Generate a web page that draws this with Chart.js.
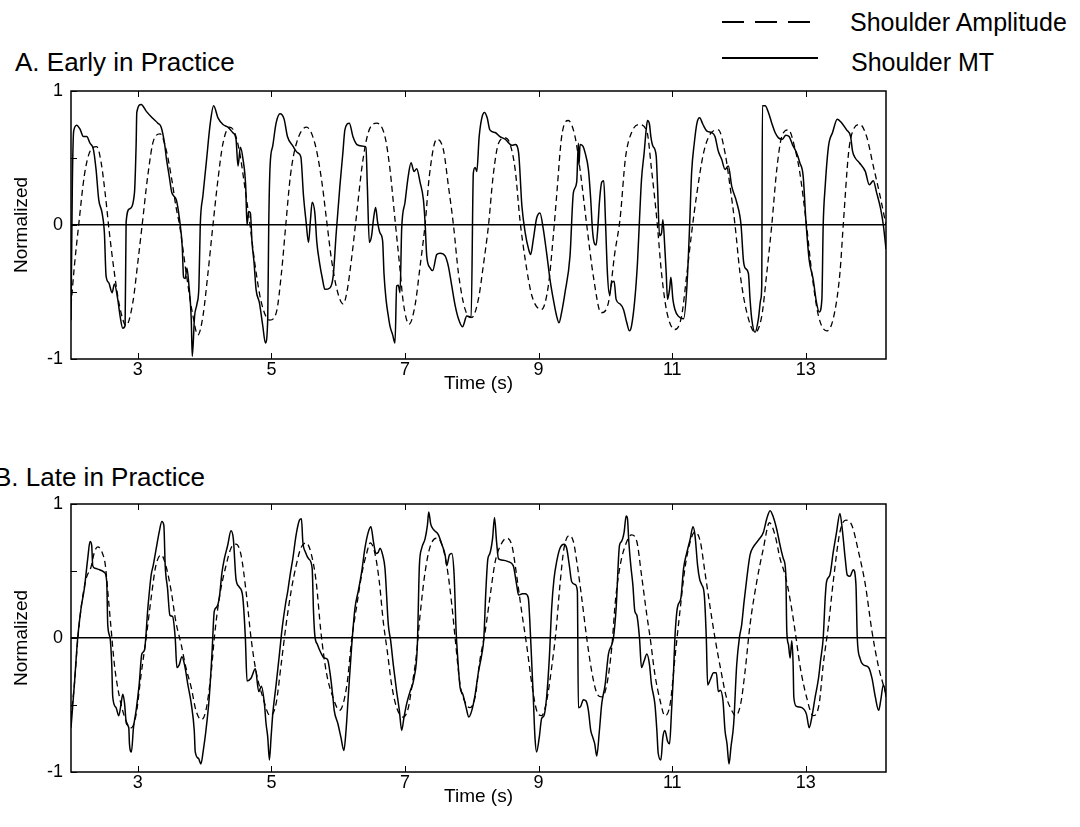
<!DOCTYPE html>
<html>
<head>
<meta charset="utf-8">
<script src="https://cdn.jsdelivr.net/npm/chart.js@4.4.1/dist/chart.umd.min.js"></script>
<style>
  body { margin: 0; background: #fff; }
  #page { position: relative; width: 1080px; height: 827px; overflow: hidden; font-family: "Liberation Sans", Arial, sans-serif; color: #000; }
  canvas { position: absolute; left: 0; }
  .panel-title { position: absolute; font-size: 26px; line-height: 30px; white-space: nowrap; }
  .legend-text { position: absolute; font-size: 25px; line-height: 30px; white-space: nowrap; }
  .legend-line { position: absolute; height: 2px; }
</style>
</head>
<body>
<div id="page">
  <div class="legend-line" style="left:722px; top:21px; width:88px; background:repeating-linear-gradient(to right,#000 0 22px,transparent 22px 33px);"></div>
  <div class="legend-text" style="left:850px; top:7px;">Shoulder Amplitude</div>
  <div class="legend-line" style="left:722px; top:57px; width:96px; background:#000;"></div>
  <div class="legend-text" style="left:851px; top:47px;">Shoulder MT</div>

  <div class="panel-title" style="left:15px; top:47px;">A. Early in Practice</div>
  <canvas id="early" width="900" height="320" style="top:80px;"></canvas>

  <div class="panel-title" style="left:-6px; top:462px;">B. Late in Practice</div>
  <canvas id="late" width="900" height="320" style="top:493px;"></canvas>
</div>

<script>
// axis ticks
const xTicks = [3, 5, 7, 9, 11, 13];
const yTicks = [-1, -0.5, 0, 0.5, 1];
const yLabels = [-1, 0, 1];

// [time (s), normalized value]
const earlyAmplitude = [
  [2.0,-0.60],[2.05,-0.31],[2.115,0],[2.2,0.37],[2.285,0.55],[2.385,0.585],[2.45,0.47],[2.515,0.22],
  [2.575,-0.06],[2.65,-0.36],[2.725,-0.60],[2.825,-0.75],[2.925,-0.58],[3.0,-0.28],[3.065,0],[3.15,0.37],
  [3.235,0.63],[3.335,0.68],[3.425,0.56],[3.515,0.32],[3.57,0.14],[3.625,0],[3.725,-0.36],[3.815,-0.65],
  [3.9,-0.82],[3.975,-0.68],[4.05,-0.36],[4.125,0],[4.2,0.34],[4.275,0.61],[4.375,0.73],[4.45,0.69],
  [4.525,0.54],[4.6,0.29],[4.675,0.02],[4.75,-0.28],[4.85,-0.58],[4.975,-0.71],[5.075,-0.65],[5.15,-0.36],
  [5.215,0],[5.285,0.37],[5.375,0.61],[5.525,0.73],[5.65,0.61],[5.75,0.34],[5.825,0.04],[5.9,-0.26],
  [5.98,-0.48],[6.075,-0.59],[6.13,-0.50],[6.2,-0.25],[6.28,0.1],[6.36,0.45],[6.45,0.69],[6.576,0.76],
  [6.7,0.66],[6.775,0.415],[6.85,0.04],[6.915,-0.28],[6.975,-0.58],[7.06,-0.74],[7.15,-0.60],[7.225,-0.31],
  [7.3,0],[7.365,0.37],[7.475,0.64],[7.575,0.56],[7.65,0.29],[7.725,0],[7.8,-0.36],[7.9,-0.63],
  [8.0,-0.69],[8.1,-0.55],[8.17,-0.31],[8.25,0],[8.32,0.37],[8.4,0.61],[8.5,0.65],[8.575,0.60],
  [8.65,0.41],[8.72,0.04],[8.8,-0.26],[8.9,-0.53],[9.045,-0.63],[9.145,-0.455],[9.22,-0.08],[9.27,0.22],
  [9.345,0.66],[9.445,0.78],[9.545,0.66],[9.62,0.415],[9.72,0],[9.82,-0.385],[9.935,-0.655],[10.045,-0.58],
  [10.14,-0.21],[10.22,0.05],[10.3,0.50],[10.4,0.70],[10.5,0.75],[10.62,0.70],[10.69,0.415],[10.77,0.04],
  [10.84,-0.36],[10.92,-0.65],[11.04,-0.78],[11.14,-0.68],[11.22,-0.36],[11.29,-0.06],[11.37,0.24],[11.47,0.54],
  [11.57,0.68],[11.69,0.71],[11.79,0.54],[11.865,0.29],[11.94,0],[12.015,-0.36],[12.115,-0.65],[12.24,-0.80],
  [12.34,-0.68],[12.415,-0.36],[12.49,0],[12.565,0.415],[12.64,0.66],[12.74,0.71],[12.84,0.565],[12.91,0.39],
  [13.01,0],[13.09,-0.36],[13.19,-0.68],[13.31,-0.79],[13.41,-0.70],[13.51,-0.36],[13.56,0],[13.64,0.54],
  [13.71,0.71],[13.81,0.75],[13.91,0.66],[14.01,0.44],[14.11,0.22],[14.2,0.0]
];

const earlyMT = [
  [2.0,-0.71],[2.02,0.30],[2.04,0.70],[2.085,0.745],[2.135,0.715],[2.185,0.66],[2.235,0.66],[2.285,0.61],
  [2.335,0.565],[2.375,0.415],[2.415,0.19],[2.465,0.09],[2.5,-0.06],[2.525,-0.38],[2.565,-0.43],[2.615,-0.505],
  [2.65,-0.44],[2.7,-0.555],[2.735,-0.68],[2.775,-0.77],[2.81,-0.75],[2.825,0.02],[2.875,0.12],[2.95,0.24],
  [2.975,0.60],[2.985,0.84],[3.05,0.90],[3.125,0.85],[3.215,0.80],[3.3,0.76],[3.35,0.73],[3.4,0.61],
  [3.43,0.49],[3.47,0.365],[3.51,0.24],[3.575,0.19],[3.625,0.04],[3.665,-0.16],[3.685,-0.39],[3.71,-0.40],
  [3.735,-0.32],[3.765,-0.45],[3.8,-0.70],[3.815,-0.98],[3.85,-0.68],[3.885,-0.59],[3.915,-0.455],[3.935,0],
  [3.975,0.22],[4.025,0.465],[4.085,0.76],[4.135,0.89],[4.2,0.80],[4.275,0.75],[4.35,0.73],[4.42,0.69],
  [4.47,0.64],[4.5,0.44],[4.535,0.58],[4.575,0.49],[4.615,0.29],[4.635,0.0],[4.66,0.10],[4.685,0.09],
  [4.71,-0.13],[4.74,-0.28],[4.77,-0.48],[4.82,-0.58],[4.87,-0.75],[4.91,-0.88],[4.945,-0.70],[4.96,0.0],
  [4.98,0.44],[5.02,0.59],[5.07,0.76],[5.13,0.83],[5.19,0.79],[5.24,0.66],[5.32,0.59],[5.39,0.54],
  [5.44,0.51],[5.48,0.22],[5.52,0.02],[5.555,-0.13],[5.585,0.04],[5.61,0.17],[5.65,0.09],[5.68,-0.13],
  [5.72,-0.28],[5.765,-0.405],[5.8,-0.48],[5.875,-0.47],[5.925,-0.38],[5.97,-0.06],[6.025,0.29],[6.07,0.54],
  [6.1,0.71],[6.167,0.76],[6.22,0.66],[6.28,0.60],[6.35,0.59],[6.415,0.58],[6.436,0.29],[6.466,-0.13],
  [6.5,-0.08],[6.527,0.04],[6.56,0.13],[6.59,0.02],[6.626,-0.06],[6.665,-0.12],[6.685,-0.36],[6.716,-0.555],
  [6.75,-0.68],[6.775,-0.755],[6.815,-0.82],[6.85,-0.88],[6.875,-0.455],[6.9,-0.45],[6.925,-0.505],[6.95,-0.03],
  [7.0,0.17],[7.05,0.37],[7.09,0.465],[7.135,0.40],[7.175,0.42],[7.225,0.32],[7.275,0.19],[7.3,0.02],
  [7.325,-0.23],[7.375,-0.32],[7.415,-0.34],[7.475,-0.22],[7.525,-0.21],[7.6,-0.23],[7.65,-0.31],[7.7,-0.455],
  [7.75,-0.60],[7.8,-0.70],[7.86,-0.76],[7.925,-0.68],[7.99,-0.69],[8.023,0.39],[8.05,0.43],[8.075,0.40],
  [8.11,0.66],[8.15,0.80],[8.19,0.84],[8.23,0.80],[8.27,0.71],[8.35,0.69],[8.42,0.66],[8.5,0.64],
  [8.6,0.595],[8.65,0.60],[8.7,0.54],[8.75,0.14],[8.8,-0.06],[8.85,-0.18],[8.88,-0.22],[8.92,-0.11],
  [8.97,0.05],[9.02,0.09],[9.07,-0.03],[9.12,-0.21],[9.17,-0.405],[9.22,-0.555],[9.27,-0.68],[9.305,-0.73],
  [9.345,-0.65],[9.395,-0.505],[9.47,-0.23],[9.52,0.24],[9.57,0.32],[9.595,0.61],[9.605,0.45],[9.62,0.60],
  [9.66,0.59],[9.695,0.54],[9.745,0.415],[9.78,0.19],[9.805,-0.03],[9.83,-0.13],[9.86,-0.15],[9.885,-0.03],
  [9.91,0.17],[9.945,0.32],[9.975,0.33],[10.0,0.04],[10.03,-0.36],[10.06,-0.52],[10.095,-0.43],[10.13,-0.42],
  [10.16,-0.555],[10.22,-0.59],[10.27,-0.63],[10.32,-0.73],[10.36,-0.79],[10.39,-0.755],[10.44,-0.555],[10.48,-0.28],
  [10.51,0.04],[10.54,0.34],[10.58,0.54],[10.61,0.71],[10.63,0.78],[10.66,0.75],[10.68,0.66],[10.71,0.59],
  [10.76,0.515],[10.78,0.29],[10.81,-0.08],[10.84,-0.06],[10.86,0.04],[10.89,-0.18],[10.91,-0.36],[10.93,-0.555],
  [10.96,-0.48],[10.98,-0.39],[11.01,-0.555],[11.04,-0.63],[11.09,-0.68],[11.17,-0.70],[11.22,-0.455],[11.26,-0.01],
  [11.29,0.39],[11.33,0.61],[11.37,0.76],[11.41,0.80],[11.46,0.75],[11.52,0.70],[11.59,0.69],[11.64,0.66],
  [11.69,0.55],[11.74,0.49],[11.79,0.415],[11.84,0.44],[11.89,0.29],[11.965,0.17],[12.03,0],[12.065,-0.26],
  [12.09,-0.32],[12.14,-0.36],[12.165,-0.555],[12.19,-0.70],[12.24,-0.80],[12.29,-0.70],[12.325,-0.555],[12.34,-0.45],
  [12.35,0.89],[12.39,0.89],[12.44,0.84],[12.49,0.76],[12.54,0.69],[12.59,0.65],[12.65,0.64],[12.7,0.67],
  [12.75,0.66],[12.8,0.60],[12.86,0.54],[12.91,0.465],[12.96,0.365],[13.0,0.04],[13.05,-0.26],[13.11,-0.405],
  [13.16,-0.58],[13.2,-0.65],[13.24,-0.555],[13.26,0],[13.29,0.29],[13.34,0.59],[13.4,0.69],[13.47,0.79],
  [13.54,0.76],[13.61,0.71],[13.67,0.66],[13.7,0.55],[13.74,0.50],[13.8,0.465],[13.89,0.40],[13.95,0.30],
  [14.01,0.33],[14.06,0.24],[14.12,0.12],[14.16,0],[14.2,-0.18]
];

const lateAmplitude = [
  [2.0,-0.59],[2.05,-0.35],[2.1,-0.02],[2.15,0.22],[2.225,0.44],[2.3,0.53],[2.35,0.64],[2.4,0.68],
  [2.465,0.64],[2.515,0.54],[2.55,0.35],[2.6,0.07],[2.65,-0.20],[2.725,-0.44],[2.825,-0.62],[2.9,-0.67],
  [2.975,-0.57],[3.05,-0.27],[3.125,0],[3.2,0.30],[3.27,0.54],[3.35,0.62],[3.42,0.54],[3.5,0.35],
  [3.57,0.12],[3.65,-0.05],[3.72,-0.22],[3.8,-0.37],[3.87,-0.54],[3.95,-0.61],[4.02,-0.54],[4.1,-0.25],
  [4.145,0],[4.22,0.30],[4.32,0.54],[4.395,0.67],[4.47,0.70],[4.545,0.62],[4.62,0.35],[4.695,0],
  [4.77,-0.25],[4.87,-0.44],[4.98,-0.58],[5.07,-0.49],[5.145,-0.20],[5.22,0.10],[5.295,0.35],[5.37,0.54],
  [5.44,0.67],[5.52,0.71],[5.59,0.64],[5.67,0.42],[5.74,0.05],[5.82,-0.25],[5.92,-0.44],[6.02,-0.54],
  [6.13,-0.35],[6.2,-0.02],[6.28,0.25],[6.35,0.47],[6.43,0.64],[6.48,0.71],[6.55,0.63],[6.615,0.42],
  [6.675,0.12],[6.735,-0.10],[6.8,-0.35],[6.875,-0.52],[6.975,-0.59],[7.05,-0.52],[7.1,-0.37],[7.165,-0.15],
  [7.225,0.17],[7.3,0.49],[7.375,0.68],[7.475,0.745],[7.55,0.70],[7.625,0.54],[7.7,0.25],[7.75,0],
  [7.825,-0.35],[7.9,-0.48],[7.97,-0.52],[8.05,-0.44],[8.12,-0.17],[8.2,0.05],[8.27,0.30],[8.35,0.57],
  [8.42,0.68],[8.52,0.745],[8.6,0.69],[8.67,0.47],[8.745,0.20],[8.82,-0.05],[8.9,-0.35],[8.97,-0.54],
  [9.045,-0.58],[9.12,-0.47],[9.195,-0.22],[9.26,0.05],[9.32,0.40],[9.38,0.67],[9.46,0.765],[9.52,0.72],
  [9.58,0.54],[9.645,0.30],[9.72,0],[9.795,-0.25],[9.87,-0.41],[9.945,-0.44],[10.02,-0.35],[10.095,-0.07],
  [10.15,0.28],[10.22,0.54],[10.32,0.72],[10.39,0.77],[10.47,0.72],[10.54,0.47],[10.62,0.17],[10.67,0],
  [10.74,-0.27],[10.82,-0.47],[10.89,-0.58],[10.97,-0.49],[11.04,-0.15],[11.12,0.22],[11.19,0.52],[11.27,0.72],
  [11.34,0.79],[11.42,0.72],[11.49,0.49],[11.57,0.22],[11.64,0],[11.72,-0.22],[11.81,-0.44],[11.89,-0.54],
  [11.95,-0.58],[12.025,-0.49],[12.09,-0.25],[12.165,0.10],[12.265,0.42],[12.365,0.67],[12.455,0.86],[12.54,0.765],
  [12.615,0.59],[12.69,0.47],[12.76,0.30],[12.84,0.05],[12.91,-0.20],[13.01,-0.44],[13.11,-0.58],[13.2,-0.49],
  [13.26,-0.20],[13.34,0.10],[13.41,0.42],[13.51,0.79],[13.6,0.88],[13.69,0.84],[13.79,0.64],[13.89,0.40],
  [13.99,0.05],[14.09,-0.22],[14.16,-0.35],[14.2,-0.42]
];

const lateMT = [
  [2.0,-0.67],[2.05,-0.35],[2.1,0],[2.15,0.22],[2.2,0.37],[2.25,0.59],[2.285,0.72],[2.31,0.69],
  [2.325,0.54],[2.36,0.52],[2.425,0.51],[2.5,0.49],[2.535,0.42],[2.55,0.10],[2.585,0],[2.61,-0.20],
  [2.625,-0.44],[2.675,-0.52],[2.715,-0.58],[2.75,-0.49],[2.775,-0.42],[2.8,-0.48],[2.83,-0.64],[2.865,-0.67],
  [2.875,-0.79],[2.905,-0.85],[2.935,-0.67],[2.975,-0.54],[3.02,-0.35],[3.06,-0.12],[3.1,-0.09],[3.15,0.22],
  [3.2,0.47],[3.23,0.54],[3.28,0.68],[3.32,0.79],[3.36,0.87],[3.39,0.84],[3.41,0.54],[3.445,0.37],
  [3.48,0.17],[3.52,0.16],[3.56,0],[3.585,-0.22],[3.62,-0.20],[3.66,-0.14],[3.7,-0.20],[3.75,-0.35],
  [3.8,-0.49],[3.845,-0.69],[3.86,-0.85],[3.91,-0.90],[3.945,-0.94],[3.98,-0.84],[4.02,-0.69],[4.07,-0.44],
  [4.11,-0.12],[4.145,0.20],[4.18,0.23],[4.22,0.30],[4.26,0.49],[4.295,0.59],[4.345,0.69],[4.395,0.80],
  [4.43,0.74],[4.47,0.44],[4.52,0.38],[4.57,0.31],[4.61,0],[4.635,-0.32],[4.695,-0.30],[4.76,-0.23],
  [4.81,-0.40],[4.85,-0.36],[4.895,-0.49],[4.92,-0.64],[4.945,-0.74],[4.97,-0.91],[4.995,-0.74],[5.02,-0.57],
  [5.07,-0.35],[5.12,-0.12],[5.16,0.07],[5.21,0.25],[5.245,0.35],[5.28,0.47],[5.32,0.59],[5.37,0.77],
  [5.42,0.88],[5.45,0.89],[5.47,0.72],[5.51,0.64],[5.56,0.59],[5.61,0.52],[5.63,0.20],[5.65,0.02],
  [5.69,-0.05],[5.74,-0.11],[5.79,-0.15],[5.84,-0.16],[5.88,-0.27],[5.92,-0.44],[5.94,-0.54],[5.995,-0.64],
  [6.04,-0.74],[6.085,-0.84],[6.117,-0.69],[6.15,-0.44],[6.2,-0.07],[6.25,0.22],[6.3,0.35],[6.35,0.49],
  [6.4,0.67],[6.45,0.79],[6.49,0.83],[6.527,0.72],[6.565,0.63],[6.6,0.64],[6.626,0.67],[6.665,0.62],
  [6.7,0.52],[6.75,0.10],[6.785,-0.02],[6.825,-0.20],[6.85,-0.30],[6.875,-0.40],[6.915,-0.54],[6.95,-0.69],
  [6.985,-0.59],[7.025,-0.49],[7.075,-0.40],[7.135,-0.30],[7.185,-0.05],[7.215,0.54],[7.25,0.67],[7.3,0.74],
  [7.335,0.84],[7.355,0.94],[7.385,0.85],[7.425,0.81],[7.5,0.77],[7.55,0.70],[7.6,0.62],[7.625,0.54],
  [7.665,0.62],[7.7,0.63],[7.735,0.47],[7.765,0.05],[7.785,-0.12],[7.825,-0.37],[7.865,-0.42],[7.915,-0.52],
  [7.955,-0.59],[8.0,-0.54],[8.05,-0.42],[8.1,-0.25],[8.15,-0.12],[8.18,0],[8.21,0.35],[8.24,0.59],
  [8.27,0.63],[8.31,0.74],[8.34,0.90],[8.37,0.72],[8.4,0.59],[8.47,0.58],[8.545,0.57],[8.62,0.54],
  [8.67,0.40],[8.7,0.32],[8.76,0.33],[8.8,0.33],[8.845,0.30],[8.88,0],[8.9,-0.22],[8.92,-0.44],
  [8.945,-0.74],[8.97,-0.85],[9.01,-0.74],[9.045,-0.60],[9.08,-0.58],[9.12,-0.44],[9.16,-0.15],[9.195,0.22],
  [9.23,0.44],[9.27,0.57],[9.32,0.67],[9.38,0.70],[9.42,0.67],[9.46,0.54],[9.495,0.42],[9.545,0.40],
  [9.58,0.35],[9.595,-0.52],[9.63,-0.51],[9.67,-0.46],[9.71,-0.47],[9.745,-0.54],[9.78,-0.69],[9.81,-0.74],
  [9.84,-0.79],[9.87,-0.88],[9.91,-0.69],[9.945,-0.49],[9.995,-0.35],[10.045,-0.12],[10.095,-0.05],[10.12,0],
  [10.16,0.22],[10.21,0.69],[10.24,0.72],[10.28,0.79],[10.31,0.91],[10.33,0.89],[10.35,0.72],[10.38,0.54],
  [10.41,0.40],[10.44,0.20],[10.47,0.17],[10.51,0],[10.54,-0.22],[10.58,-0.17],[10.62,-0.12],[10.66,-0.20],
  [10.69,-0.35],[10.74,-0.49],[10.77,-0.69],[10.79,-0.86],[10.83,-0.91],[10.86,-0.74],[10.89,-0.69],[10.93,-0.77],
  [10.96,-0.79],[10.99,-0.54],[11.02,-0.25],[11.04,0],[11.07,0.20],[11.09,0.25],[11.13,0.30],[11.17,0.52],
  [11.22,0.64],[11.27,0.74],[11.31,0.83],[11.34,0.77],[11.38,0.54],[11.41,0.44],[11.44,0.40],[11.48,0.32],
  [11.51,0],[11.53,-0.35],[11.57,-0.31],[11.62,-0.26],[11.66,-0.26],[11.69,-0.40],[11.72,-0.39],[11.76,-0.47],
  [11.79,-0.69],[11.82,-0.79],[11.85,-0.94],[11.88,-0.81],[11.92,-0.64],[11.965,-0.20],[12.005,0],[12.04,0.10],
  [12.075,0.27],[12.115,0.44],[12.165,0.62],[12.215,0.68],[12.29,0.73],[12.365,0.79],[12.415,0.89],[12.465,0.95],
  [12.515,0.90],[12.565,0.81],[12.615,0.69],[12.665,0.59],[12.7,0.48],[12.715,0.05],[12.74,-0.05],[12.765,-0.15],
  [12.79,-0.02],[12.81,-0.20],[12.82,-0.44],[12.86,-0.51],[12.94,-0.52],[13.01,-0.57],[13.05,-0.67],[13.09,-0.59],
  [13.14,-0.44],[13.19,-0.30],[13.22,-0.17],[13.26,0],[13.29,0.30],[13.31,0.42],[13.36,0.47],[13.41,0.64],
  [13.46,0.79],[13.51,0.93],[13.55,0.79],[13.59,0.59],[13.62,0.47],[13.66,0.46],[13.71,0.51],[13.75,0.40],
  [13.77,0],[13.81,-0.15],[13.86,-0.20],[13.94,-0.22],[13.99,-0.30],[14.04,-0.44],[14.09,-0.54],[14.12,-0.47],
  [14.16,-0.35],[14.19,-0.40],[14.2,-0.44]
];

Chart.defaults.font.family = '"Liberation Sans", Arial, sans-serif';
Chart.defaults.font.size = 18;
Chart.defaults.color = '#000';

// box around the plot area plus inward tick marks
const boxPlugin = {
  id: 'box',
  afterDatasetsDraw(chart) {
    const { ctx, chartArea: a, scales: { x, y } } = chart;
    ctx.save();
    ctx.strokeStyle = '#000';
    ctx.lineWidth = 1.5;
    ctx.strokeRect(a.left, a.top, a.right - a.left, a.bottom - a.top);
    ctx.lineWidth = 1;
    ctx.beginPath();
    xTicks.forEach(v => {
      const px = Math.round(x.getPixelForValue(v)) + 0.5;
      ctx.moveTo(px, a.top); ctx.lineTo(px, a.top + 6);
      ctx.moveTo(px, a.bottom); ctx.lineTo(px, a.bottom - 6);
    });
    yTicks.forEach(v => {
      const py = Math.round(y.getPixelForValue(v)) + 0.5;
      ctx.moveTo(a.left, py); ctx.lineTo(a.left + 6, py);
    });
    ctx.stroke();
    ctx.restore();
  }
};

function toPoints(series) {
  return series.map(([t, v]) => ({ x: t, y: v }));
}

function makeChart(id, amplitude, mt) {
  const ctx = document.getElementById(id).getContext('2d');
  return new Chart(ctx, {
    type: 'line',
    data: {
      datasets: [
        {
          label: 'Shoulder Amplitude',
          data: toPoints(amplitude),
          borderColor: '#000',
          borderWidth: 1.3,
          borderDash: [6, 4],
          pointRadius: 0,
          cubicInterpolationMode: 'monotone',
        },
        {
          label: 'Shoulder MT',
          data: toPoints(mt),
          borderColor: '#000',
          borderWidth: 1.5,
          pointRadius: 0,
          cubicInterpolationMode: 'monotone',
        },
      ],
    },
    options: {
      responsive: false,
      animation: false,
      layout: { padding: { top: 11, right: 14, left: 0, bottom: 0 } },
      plugins: {
        legend: { display: false },
        tooltip: { enabled: false },
      },
      scales: {
        x: {
          type: 'linear',
          min: 2,
          max: 14.2,
          afterBuildTicks: (scale) => { scale.ticks = xTicks.map(v => ({ value: v })); },
          afterFit: (scale) => { scale.height = 41; },
          grid: { display: false, drawTicks: false },
          border: { display: false },
          ticks: { padding: 0, maxRotation: 0, font: { size: 18 } },
          title: { display: true, text: 'Time (s)', font: { size: 19 }, padding: { top: 0, bottom: 5 } },
        },
        y: {
          min: -1,
          max: 1,
          afterBuildTicks: (scale) => { scale.ticks = yTicks.map(v => ({ value: v })); },
          afterFit: (scale) => {
            // keep the plot box exactly where the layout padding puts it
            scale.width = 71;
            scale.paddingTop = 0;
            scale.paddingBottom = 0;
          },
          grid: {
            drawTicks: false,
            lineWidth: 1.5,
            color: (c) => (c.tick && c.tick.value === 0 ? '#000' : 'rgba(0,0,0,0)'),
          },
          border: { display: false },
          ticks: {
            padding: 8,
            font: { size: 18 },
            callback: (v) => (yLabels.includes(v) ? String(v) : ''),
          },
          title: { display: true, text: 'Normalized', font: { size: 19 }, padding: { top: 10, bottom: 0 } },
        },
      },
    },
    plugins: [boxPlugin],
  });
}

makeChart('early', earlyAmplitude, earlyMT);
makeChart('late', lateAmplitude, lateMT);
</script>
</body>
</html>
